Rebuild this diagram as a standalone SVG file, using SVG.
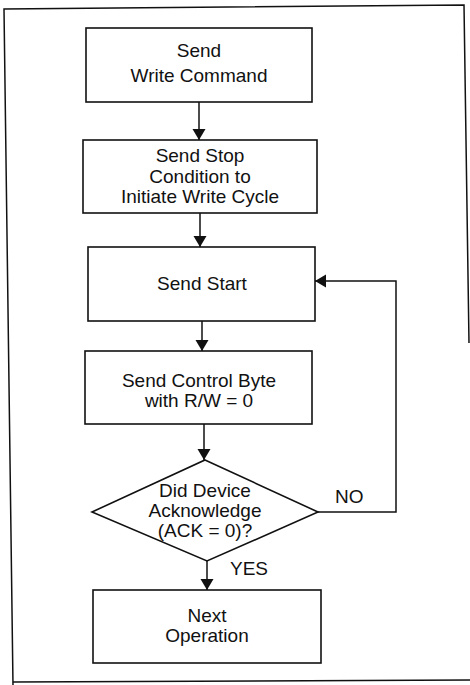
<svg xmlns="http://www.w3.org/2000/svg" width="470" height="685" viewBox="0 0 470 685">
<style>
.box{fill:#fff;stroke:#111;stroke-width:1.6}
.ln{fill:none;stroke:#111;stroke-width:1.5}
.t{font-family:"Liberation Sans",Arial,sans-serif;font-size:19px;fill:#111;text-anchor:middle}
.lbl{font-family:"Liberation Sans",Arial,sans-serif;font-size:19px;fill:#111}
</style>
<defs>
<marker id="ah" markerWidth="14" markerHeight="14" refX="11" refY="6.5" orient="auto" markerUnits="userSpaceOnUse">
<path d="M0,0 L11,6.5 L0,13 Z" fill="#111"/>
</marker>
</defs>
<path id="frame" class="ln" d="M469,343 L464,5 L4,9 L13,685 M13,682 L470,680"/>
<g id="n1">
<rect class="box" x="86" y="28" width="226" height="74"/>
<text class="t" x="199" y="57">Send</text>
<text class="t" x="199" y="82">Write Command</text>
</g>
<g id="n2">
<rect class="box" x="83" y="140" width="234" height="73"/>
<text class="t" x="200" y="162">Send Stop</text>
<text class="t" x="200" y="183">Condition to</text>
<text class="t" x="200" y="203">Initiate Write Cycle</text>
</g>
<g id="n3">
<rect class="box" x="88" y="247" width="227" height="74"/>
<text class="t" x="202" y="290">Send Start</text>
</g>
<g id="n4">
<rect class="box" x="85" y="351" width="227" height="73"/>
<text class="t" x="199" y="387">Send Control Byte</text>
<text class="t" x="199" y="407">with R/W = 0</text>
</g>
<g id="n5">
<polygon class="box" points="205,460 318,512 207,561 92,512"/>
<text class="t" x="205" y="497">Did Device</text>
<text class="t" x="205" y="517">Acknowledge</text>
<text class="t" x="205" y="537">(ACK = 0)?</text>
</g>
<g id="n6">
<rect class="box" x="93" y="590" width="228" height="73"/>
<text class="t" x="207" y="622">Next</text>
<text class="t" x="207" y="642">Operation</text>
</g>
<g id="connectors">
<line class="ln" x1="199" y1="102" x2="199" y2="140" marker-end="url(#ah)"/>
<line class="ln" x1="200" y1="213" x2="200" y2="247" marker-end="url(#ah)"/>
<line class="ln" x1="202" y1="321" x2="202" y2="351" marker-end="url(#ah)"/>
<line class="ln" x1="204" y1="424" x2="204" y2="460" marker-end="url(#ah)"/>
<line class="ln" x1="207" y1="561" x2="207" y2="590" marker-end="url(#ah)"/>
<polyline class="ln" points="318,512 396,512 396,281 315,281" marker-end="url(#ah)"/>
<text class="lbl" x="335" y="503">NO</text>
<text class="lbl" x="230" y="575">YES</text>
</g>
</svg>
